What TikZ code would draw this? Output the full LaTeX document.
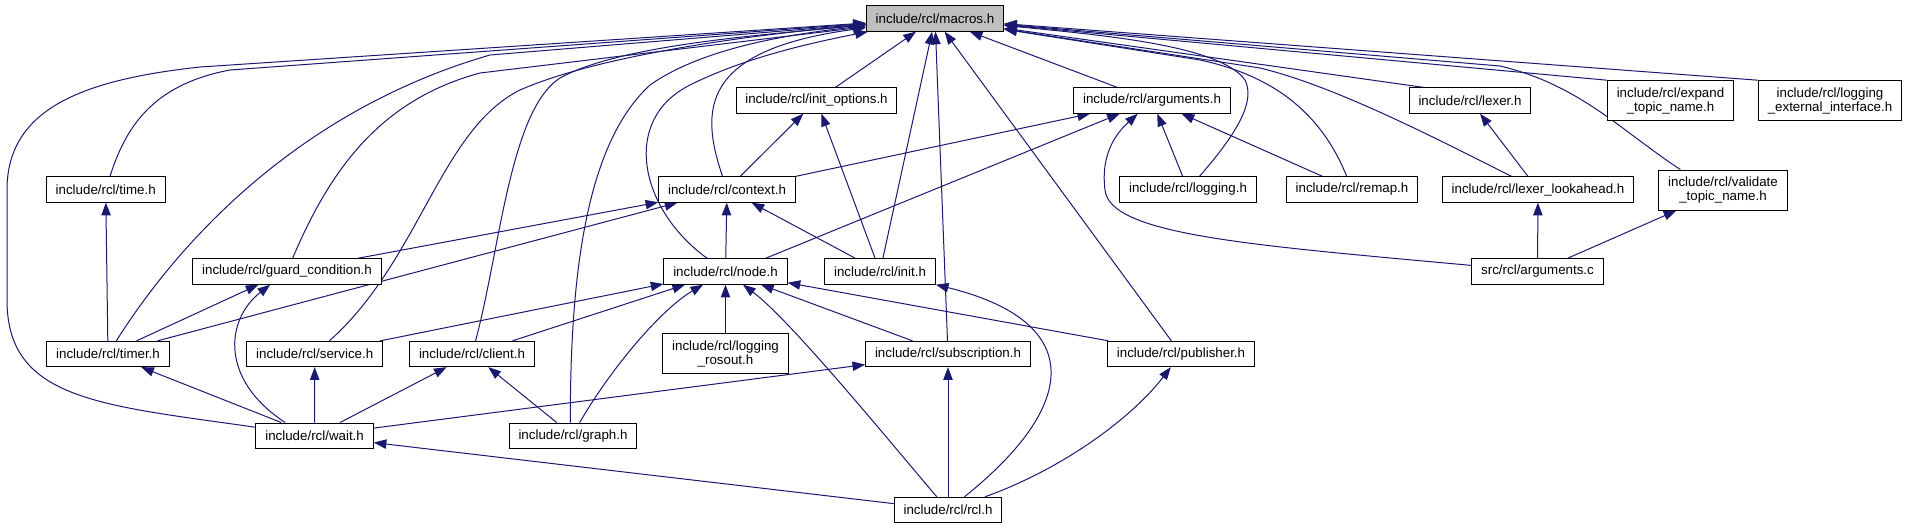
\documentclass[tikz,border=0pt]{standalone}
\usepackage{fontspec}
\setmainfont{Liberation Sans}
\usetikzlibrary{arrows.meta, positioning, backgrounds}
\definecolor{edgeBlue}{HTML}{191970}
\definecolor{rootGray}{HTML}{BFBFBF}

\begin{document}
\begin{tikzpicture}[
x=0.75pt, y=-0.75pt,
file/.style={rectangle, draw=black, fill=white, line width=0.75pt, inner xsep=7pt, inner ysep=2pt, minimum height=19pt, align=center, font=\fontsize{10}{10.5}\selectfont},
twoline/.style={minimum height=30pt},
dep/.style={-{Triangle[length=9.5pt, width=7pt]}, line width=0.75pt, edgeBlue}
]
\useasboundingbox (0,0) rectangle (1906,529);

\node[file, fill=rootGray] (macros) at (935,18.5) {include/rcl/macros.h};

\node[file] (initopts) at (816.5,100.5) {include/rcl/init\_options.h};
\node[file] (args) at (1152,100.5) {include/rcl/arguments.h};
\node[file] (lexer) at (1470,100.5) {include/rcl/lexer.h};
\node[file, twoline] (expand) at (1670.5,100.7) {include/rcl/expand\\\_topic\_name.h};
\node[file, twoline] (logext) at (1830,100.7) {include/rcl/logging\\\_external\_interface.h};

\node[file] (timeh) at (105.7,189.5) {include/rcl/time.h};
\node[file] (context) at (727,189.5) {include/rcl/context.h};
\node[file] (logging) at (1188,189.5) {include/rcl/logging.h};
\node[file] (remap) at (1352,189.5) {include/rcl/remap.h};
\node[file] (lookahead) at (1538,189.5) {include/rcl/lexer\_lookahead.h};
\node[file, twoline] (validate) at (1723,190) {include/rcl/validate\\\_topic\_name.h};

\node[file] (guard) at (287,271.5) {include/rcl/guard\_condition.h};
\node[file] (nodeh) at (725.5,271.5) {include/rcl/node.h};
\node[file] (inith) at (880,271.5) {include/rcl/init.h};
\node[file] (argsc) at (1537.5,271.5) {src/rcl/arguments.c};

\node[file] (timer) at (108,354) {include/rcl/timer.h};
\node[file] (service) at (314.7,354) {include/rcl/service.h};
\node[file] (client) at (472,354) {include/rcl/client.h};
\node[file, twoline] (rosout) at (725.5,353.5) {include/rcl/logging\\\_rosout.h};
\node[file] (subscr) at (948,354) {include/rcl/subscription.h};
\node[file] (publisher) at (1181,354) {include/rcl/publisher.h};

\node[file] (wait) at (314.6,435.7) {include/rcl/wait.h};
\node[file] (graph) at (573,435.7) {include/rcl/graph.h};

\node[file] (rcl) at (948,510) {include/rcl/rcl.h};

\begin{scope}[on background layer]
% everything that pulls in macros.h
\draw[dep] (wait) .. controls (100,405) and (7,400) .. (7,300) -- (7,190) .. controls (7,110) and (80,80) .. (200,67) -- (macros);
\draw[dep] (timeh) .. controls (125,130) and (150,85) .. (230,70) -- (macros);
\draw[dep] (timer) .. controls (180,240) and (300,110) .. (490,55) -- (macros);
\draw[dep] (guard) .. controls (330,170) and (380,100) .. (480,73) -- (macros);
\draw[dep] (service) .. controls (420,260) and (440,130) .. (520,90) .. controls (600,55) and (750,35) .. (macros);
\draw[dep] (client) .. controls (500,250) and (510,110) .. (560,78) .. controls (620,45) and (760,35) .. (macros);
\draw[dep] ([xshift=-2pt]graph.north) .. controls (570,260) and (590,140) .. (650,85) .. controls (700,50) and (780,35) .. (macros);
\draw[dep] (nodeh) .. controls (640,210) and (620,120) .. (690,85) .. controls (740,60) and (800,45) .. (macros);
\draw[dep] (context) .. controls (700,110) and (700,50) .. (macros);
\draw[dep] (initopts) -- (macros);
\draw[dep] (inith) -- (macros);
\draw[dep] (subscr) -- (macros);
\draw[dep] (publisher) -- (macros);
\draw[dep] (args) -- (macros);
\draw[dep] (logging) .. controls (1240,130) and (1255,100) .. (1245,80) .. controls (1220,45) and (1100,35) .. (macros);
\draw[dep] (remap) .. controls (1320,110) and (1270,75) .. (1200,60) -- (macros);
\draw[dep] ([xshift=-35pt]lexer.north) -- (macros);
\draw[dep] ([xshift=-20pt]lookahead.north) .. controls (1420,130) and (1330,85) .. (1260,68) -- (macros);
\draw[dep] ([xshift=-32pt]validate.north) .. controls (1620,130) and (1580,85) .. (1500,66) -- (macros);
\draw[dep] (expand.north west) -- (macros);
\draw[dep] (logext.north west) -- (macros);

% the rest
\draw[dep] (timer) -- (timeh);
\draw[dep] (timer) -- (guard);
\draw[dep] (timer) -- (context);
\draw[dep] (guard) -- (context);
\draw[dep] ([xshift=-22pt]wait.north) .. controls (220,380) and (225,320) .. (guard);
\draw[dep] (wait) -- (timer);
\draw[dep] (wait) -- (service);
\draw[dep] (wait) -- (client);
\draw[dep] (wait) -- (subscr);
\draw[dep] (rcl) -- (wait);
\draw[dep] (graph) -- (client);
\draw[dep] ([xshift=5pt]graph.north) .. controls (610,370) and (660,310) .. (nodeh);
\draw[dep] (service) -- (nodeh);
\draw[dep] (client) -- (nodeh);
\draw[dep] (rosout) -- (nodeh);
\draw[dep] (rcl) .. controls (880,430) and (790,320) .. (nodeh);
\draw[dep] (subscr) -- (nodeh);
\draw[dep] (publisher) -- (nodeh);
\draw[dep] (rcl) .. controls (1085,400) and (1080,320) .. (inith.south east);
\draw[dep] (rcl) -- (subscr);
\draw[dep] (rcl) .. controls (1060,470) and (1130,420) .. (publisher);
\draw[dep] (inith) -- (initopts);
\draw[dep] (inith) -- (context);
\draw[dep] (context) -- (initopts);
\draw[dep] (context.north east) -- (args);
\draw[dep] (nodeh) -- (context);
\draw[dep] ([xshift=30pt]nodeh.north) -- (args);
\draw[dep] (logging) -- (args);
\draw[dep] (remap) -- (args);
\draw[dep] (argsc) .. controls (1250,245) and (1110,235) .. (1105,190) .. controls (1100,150) and (1120,130) .. (args);
\draw[dep] (lookahead) -- (lexer);
\draw[dep] (argsc) -- (lookahead);
\draw[dep] (argsc) -- (validate);
\end{scope}
\end{tikzpicture}
\end{document}
